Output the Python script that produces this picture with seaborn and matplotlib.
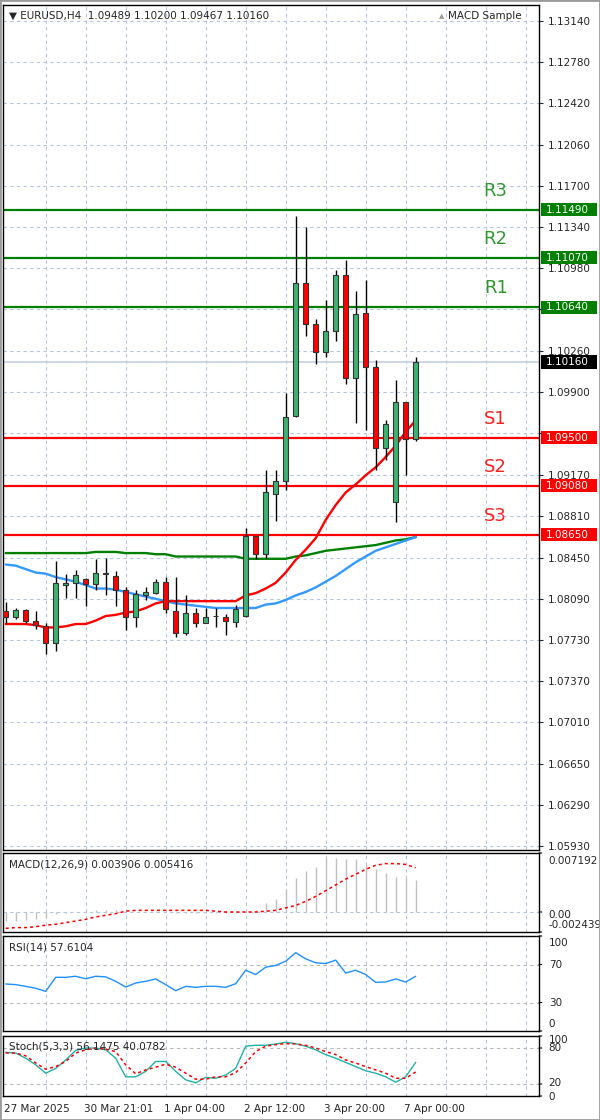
"""EURUSD H4 chart with pivot levels, moving averages, MACD, RSI and Stochastic panels."""

import matplotlib
matplotlib.use("Agg")

import matplotlib.pyplot as plt
import matplotlib.transforms as mtransforms
from matplotlib.patches import Rectangle
import numpy as np
import seaborn as sns

W, H = 600, 1120

# ---- candles (H4 bars, oldest first) ----
opens = [1.0798, 1.0793, 1.0799, 1.0790, 1.0785, 1.0770, 1.0821, 1.0823, 1.0826, 1.0822,
         1.0831, 1.0829, 1.0817, 1.0793, 1.0812, 1.0814, 1.0824, 1.0798, 1.0779, 1.0797,
         1.0788, 1.0794, 1.0793, 1.0789, 1.0794, 1.0864, 1.0848, 1.0901, 1.0912, 1.0969,
         1.1085, 1.1049, 1.1025, 1.1043, 1.1092, 1.1002, 1.1059, 1.1012, 1.0941, 1.0894,
         1.0981, 1.09489]
highs = [1.0806, 1.0801, 1.0800, 1.0798, 1.0788, 1.0842, 1.0831, 1.0834, 1.0827, 1.0844,
         1.0845, 1.0833, 1.0819, 1.0817, 1.0819, 1.0826, 1.0828, 1.0828, 1.0812, 1.0801,
         1.0801, 1.0801, 1.0796, 1.0804, 1.0871, 1.0864, 1.0922, 1.0922, 1.0989, 1.1144,
         1.1134, 1.1054, 1.1070, 1.1096, 1.1105, 1.1078, 1.1088, 1.1018, 1.0965, 1.1000,
         1.0981, 1.10200]
lows = [1.0788, 1.0791, 1.0788, 1.0783, 1.0761, 1.0763, 1.0810, 1.0810, 1.0803, 1.0817,
        1.0812, 1.0803, 1.0782, 1.0784, 1.0808, 1.0813, 1.0797, 1.0776, 1.0777, 1.0784,
        1.0788, 1.0784, 1.0777, 1.0784, 1.0793, 1.0844, 1.0845, 1.0877, 1.0904, 1.0968,
        1.1039, 1.1014, 1.1020, 1.1034, 1.0997, 1.0963, 1.0957, 1.0922, 1.0930, 1.0876,
        1.0917, 1.09467]
closes = [1.0793, 1.0799, 1.0790, 1.0786, 1.0770, 1.0823, 1.0823, 1.0830, 1.0822, 1.0832,
          1.0832, 1.0817, 1.0793, 1.0813, 1.0815, 1.0824, 1.0800, 1.0779, 1.0797, 1.0788,
          1.0793, 1.0794, 1.0790, 1.0800, 1.0864, 1.0848, 1.0902, 1.0912, 1.0968, 1.1085,
          1.1049, 1.1025, 1.1043, 1.1092, 1.1002, 1.1058, 1.1012, 1.0941, 1.0962, 1.0981,
          1.0949, 1.10160]

# ---- moving averages ----
ma_red = [1.0787, 1.0787, 1.0787, 1.0786, 1.0784, 1.0784, 1.0785, 1.0787, 1.0787, 1.0790,
          1.0794, 1.0795, 1.0797, 1.0798, 1.0801, 1.0805, 1.0807, 1.0807, 1.0807, 1.0807,
          1.0807, 1.0807, 1.0807, 1.0807, 1.0812, 1.0814, 1.0818, 1.0823, 1.0832, 1.0843,
          1.0852, 1.0862, 1.0878, 1.0891, 1.0902, 1.0909, 1.0917, 1.0924, 1.0933, 1.0943,
          1.0955, 1.0965]
ma_blue = [1.0839, 1.0838, 1.0835, 1.0832, 1.0831, 1.0828, 1.0826, 1.0824, 1.0821, 1.0818,
           1.0818, 1.0817, 1.0815, 1.0813, 1.0811, 1.0809, 1.0807, 1.0805, 1.0804, 1.0803,
           1.0802, 1.0801, 1.0801, 1.0801, 1.0801, 1.0801, 1.0804, 1.0805, 1.0808, 1.0812,
           1.0815, 1.0819, 1.0824, 1.0829, 1.0835, 1.0841, 1.0846, 1.0851, 1.0854, 1.0857,
           1.0860, 1.0863]
ma_green = [1.0849, 1.0849, 1.0849, 1.0849, 1.0849, 1.0849, 1.0849, 1.0849, 1.0849, 1.0850,
            1.0850, 1.0850, 1.0849, 1.0849, 1.0849, 1.0848, 1.0848, 1.0846, 1.0846, 1.0846,
            1.0846, 1.0846, 1.0846, 1.0846, 1.0844, 1.0844, 1.0844, 1.0844, 1.0844, 1.0846,
            1.0847, 1.0849, 1.0851, 1.0852, 1.0853, 1.0854, 1.0855, 1.0856, 1.0858, 1.0860,
            1.0861, 1.0863]

# ---- pivot levels ----
level_names = ["R3", "R2", "R1", "S1", "S2", "S3"]
level_values = [1.11490, 1.11070, 1.10640, 1.09500, 1.09080, 1.08650]
last_price = 1.10160

price_ticks = [1.13140, 1.12780, 1.12420, 1.12060, 1.11700, 1.11340, 1.10980, 1.10620,
               1.10260, 1.09900, 1.09540, 1.09170, 1.08810, 1.08450, 1.08090, 1.07730,
               1.07370, 1.07010, 1.06650, 1.06290, 1.05930]
# tick labels that sit fully behind a level box are left blank
hidden_ticks = [1.10620, 1.09540]

# ---- indicators ----
macd_main = [-0.0011, -0.0011, -0.0010, -0.0009, -0.0006, -0.0003, -0.0001, 0.0000, 0.0001, 0.0002,
             0.0002, 0.0002, 0.0001, 0.0000, 0.0000, 0.0001, 0.0000, -0.0001, -0.0001, -0.0001,
             -0.0001, -0.0001, -0.0001, -0.0001, 0.0001, 0.0003, 0.0011, 0.0016, 0.0027, 0.0041,
             0.0050, 0.0055, 0.0066, 0.0066, 0.0064, 0.0064, 0.0059, 0.0052, 0.0047, 0.0043,
             0.0042, 0.0039]
macd_signal = [-0.0020, -0.0019, -0.0019, -0.0018, -0.0016, -0.0015, -0.0013, -0.0011, -0.0009, -0.0006,
               -0.0004, -0.0002, 0.0001, 0.0002, 0.0002, 0.0002, 0.0002, 0.0002, 0.0002, 0.0002,
               0.0002, 0.0001, 0.0000, 0.0000, 0.0000, 0.0000, 0.0001, 0.0002, 0.0005, 0.0008,
               0.0013, 0.0019, 0.0026, 0.0033, 0.0040, 0.0046, 0.0052, 0.0057, 0.0059, 0.0059,
               0.0058, 0.0054]
rsi = [49.5, 48.8, 47.0, 45.0, 41.7, 56.5, 56.5, 57.6, 55.0, 57.6,
       57.0, 52.3, 46.3, 50.5, 52.3, 54.8, 48.8, 42.4, 47.0, 46.0,
       47.0, 47.0, 46.0, 49.8, 64.0, 59.4, 67.2, 69.0, 73.5, 82.4,
       76.0, 71.8, 71.0, 74.6, 61.0, 64.0, 59.4, 51.2, 51.6, 54.8,
       51.6, 57.6]
stoch_k = [72.7, 71.6, 63.0, 52.0, 38.0, 46.0, 60.0, 76.0, 80.0, 80.0,
           77.0, 63.0, 32.0, 32.0, 41.0, 57.6, 57.6, 41.0, 27.0, 22.0,
           31.0, 29.5, 35.0, 46.0, 83.0, 84.5, 84.5, 86.7, 89.5, 87.3,
           83.0, 77.0, 69.0, 63.0, 56.0, 49.0, 42.0, 38.0, 32.0, 23.0,
           32.0, 56.1]
stoch_d = [71.6, 71.6, 67.0, 55.0, 44.7, 49.0, 57.6, 71.6, 77.0, 80.0,
           78.0, 74.0, 52.0, 37.0, 43.5, 48.0, 53.0, 48.0, 38.0, 28.0,
           28.0, 32.0, 32.0, 39.0, 55.0, 74.0, 83.0, 85.6, 87.3, 86.7,
           84.5, 80.0, 74.0, 69.0, 60.0, 55.0, 49.0, 43.5, 38.0, 29.5,
           29.5, 40.1]

time_labels = ["27 Mar 2025", "30 Mar 21:01", "1 Apr 04:00", "2 Apr 12:00", "3 Apr 20:00", "7 Apr 00:00"]
time_label_bars = [0, 8, 16, 24, 32, 40]

# ---- style ----
sns.set_style("white")
plt.rcParams["font.family"] = ["DejaVu Sans"]

GRID = "#b4c6de"
UP = "#3cb371"
DOWN = "#ff0000"
FS = 7.5

bars = np.arange(len(opens))
x_lim = (-0.27, 53.33)
grid_x = np.arange(4, 54, 4)

fig = plt.figure(figsize=(W / 100, H / 100), dpi=100)


def panel(top, bottom, left=3, right=539):
    ax = fig.add_axes([left / W, 1 - bottom / H, (right - left) / W, (bottom - top) / H])
    ax.set_xlim(*x_lim)
    for s in ax.spines.values():
        s.set_color("black")
        s.set_linewidth(1.0)
    for gx in grid_x:
        ax.axvline(gx, color=GRID, linestyle=(0, (3, 3)), linewidth=0.8, zorder=0)
    ax.set_xticks([])
    return ax


def right_label(ax, y, text, va="center", dy=0):
    trans = mtransforms.blended_transform_factory(ax.transAxes, ax.transData)
    ax.annotate(text, xy=(1.0, y), xycoords=trans, xytext=(7, dy), textcoords="offset points",
                ha="left", va=va, fontsize=FS, annotation_clip=False)
    ax.annotate("", xy=(1.0, y), xycoords=trans, xytext=(4, 0), textcoords="offset points",
                arrowprops=dict(arrowstyle="-", color="black", lw=0.8), annotation_clip=False)


# ===== main price panel =====
ax = panel(5, 850)
ax.set_ylim(1.05895, 1.13280)
ax.yaxis.tick_right()
ax.set_yticks(price_ticks)
ax.set_yticklabels(["" if t in hidden_ticks else f"{t:.5f}" for t in price_ticks])
ax.tick_params(axis="y", direction="out", length=3, width=0.8, pad=3, labelsize=FS)
ax.grid(axis="y", color=GRID, linestyle=(0, (3, 3)), linewidth=0.8)
ax.set_axisbelow(True)

ax.axhline(last_price, color="#c4d0e0", linewidth=1.2, zorder=1)
for name, val in zip(level_names, level_values):
    col = "#008000" if name.startswith("R") else "#ff0000"
    ax.axhline(val, color=col, linewidth=1.6, zorder=2)

sns.lineplot(x=bars, y=ma_green, ax=ax, color="#008000", linewidth=1.7, zorder=3)
sns.lineplot(x=bars, y=ma_blue, ax=ax, color="#3399ff", linewidth=1.7, zorder=3)
sns.lineplot(x=bars, y=ma_red, ax=ax, color="#ff0000", linewidth=1.7, zorder=3)

o = np.array(opens)
c = np.array(closes)
ax.vlines(bars, lows, highs, color="black", linewidth=1.0, zorder=4)
body_low = np.minimum(o, c)
body_h = np.maximum(np.abs(c - o), 0.00004)
body_col = [UP if cc >= oo else DOWN for oo, cc in zip(o, c)]
ax.bar(bars, body_h, bottom=body_low, width=0.55, color=body_col,
       edgecolor="#333333", linewidth=0.8, zorder=5)

for name, val in zip(level_names, level_values):
    col = "#2e9a2e" if name.startswith("R") else "#ff2020"
    ax.text(49.0, val + 0.00165, name, color=col, fontsize=13, ha="center", va="center", zorder=6)

trans = mtransforms.blended_transform_factory(ax.transAxes, ax.transData)
box_h = 0.00114
box_items = list(zip(level_values, ["#008000"] * 3 + ["#ff0000"] * 3)) + [(last_price, "#000000")]
for val, col in box_items:
    ax.add_patch(Rectangle((1.0035, val - box_h / 2), 0.1045, box_h, transform=trans,
                           facecolor=col, edgecolor="none", clip_on=False, zorder=8))
    ax.text(1.0135, val, f"{val:.5f}", transform=trans, color="white", fontsize=FS,
            ha="left", va="center", clip_on=False, zorder=9)

fig.text(9 / W, 1 - 16 / H, "\u25bc EURUSD,H4  1.09489 1.10200 1.09467 1.10160",
         fontsize=FS, ha="left", va="center")
fig.text(448 / W, 1 - 16 / H, "MACD Sample", fontsize=FS, ha="left", va="center")
fig.text(439 / W, 1 - 16 / H, "\u25b2", fontsize=5, color="#9a9a9a", ha="left", va="center")

# ===== MACD =====
ax_m = panel(853, 932)
ax_m.set_ylim(-0.002439, 0.007192)
ax_m.set_yticks([])
ax_m.axhline(0, color=GRID, linestyle=(0, (3, 3)), linewidth=0.8, zorder=0)
ax_m.vlines(bars, 0, macd_main, color="#c0c0c0", linewidth=1.0, zorder=2)
sns.lineplot(x=bars, y=macd_signal, ax=ax_m, color="#ff0000", linewidth=1.1,
             linestyle=(0, (2, 2)), zorder=3)
ax_m.text(0.012, 0.86, "MACD(12,26,9) 0.003906 0.005416", transform=ax_m.transAxes,
          fontsize=FS, ha="left", va="center")
right_label(ax_m, 0.007192, "0.007192", va="center", dy=-6)
right_label(ax_m, 0.0, "0.00", va="center", dy=-2)
right_label(ax_m, -0.002439, "-0.002439", va="center", dy=5)

# ===== RSI =====
ax_r = panel(936, 1031)
ax_r.set_ylim(0, 100)
ax_r.set_yticks([])
for lvl in (70, 30):
    ax_r.axhline(lvl, color="#b8b8b8", linestyle=(0, (3, 3)), linewidth=0.8, zorder=0)
sns.lineplot(x=bars, y=rsi, ax=ax_r, color="#1e90ff", linewidth=1.0, zorder=3)
ax_r.text(0.012, 0.88, "RSI(14) 57.6104", transform=ax_r.transAxes,
          fontsize=FS, ha="left", va="center")
right_label(ax_r, 100, "100", dy=-5)
right_label(ax_r, 70, "70")
right_label(ax_r, 30, "30")
right_label(ax_r, 0, "0", dy=5)

# ===== Stochastic =====
ax_s = panel(1036, 1096)
ax_s.set_ylim(0, 100)
ax_s.set_yticks([])
for lvl in (80, 20):
    ax_s.axhline(lvl, color="#b8b8b8", linestyle=(0, (3, 3)), linewidth=0.8, zorder=0)
sns.lineplot(x=bars, y=stoch_k, ax=ax_s, color="#20b2aa", linewidth=1.0, zorder=3)
sns.lineplot(x=bars, y=stoch_d, ax=ax_s, color="#ff0000", linewidth=1.1,
             linestyle=(0, (2, 2)), zorder=3)
ax_s.text(0.012, 0.83, "Stoch(5,3,3) 56.1475 40.0782", transform=ax_s.transAxes,
          fontsize=FS, ha="left", va="center")
right_label(ax_s, 100, "100", dy=-3)
right_label(ax_s, 80, "80")
right_label(ax_s, 20, "20", dy=1)
right_label(ax_s, 0, "0", dy=-0.5)

ax_s.set_xticks(grid_x)
ax_s.tick_params(axis="x", direction="out", length=3, width=0.8, labelbottom=False)
for lbl, b in zip(time_labels, time_label_bars):
    ax_s.text(b - 0.2, -0.22, lbl, transform=mtransforms.blended_transform_factory(ax_s.transData, ax_s.transAxes),
              fontsize=FS, ha="left", va="center", clip_on=False)

fig.patches.append(Rectangle((0, 0), 1, 1, transform=fig.transFigure, fill=False,
                             edgecolor="#9a9a9a", linewidth=2))

fig.savefig("out.png", dpi=100)
plt.close(fig)
